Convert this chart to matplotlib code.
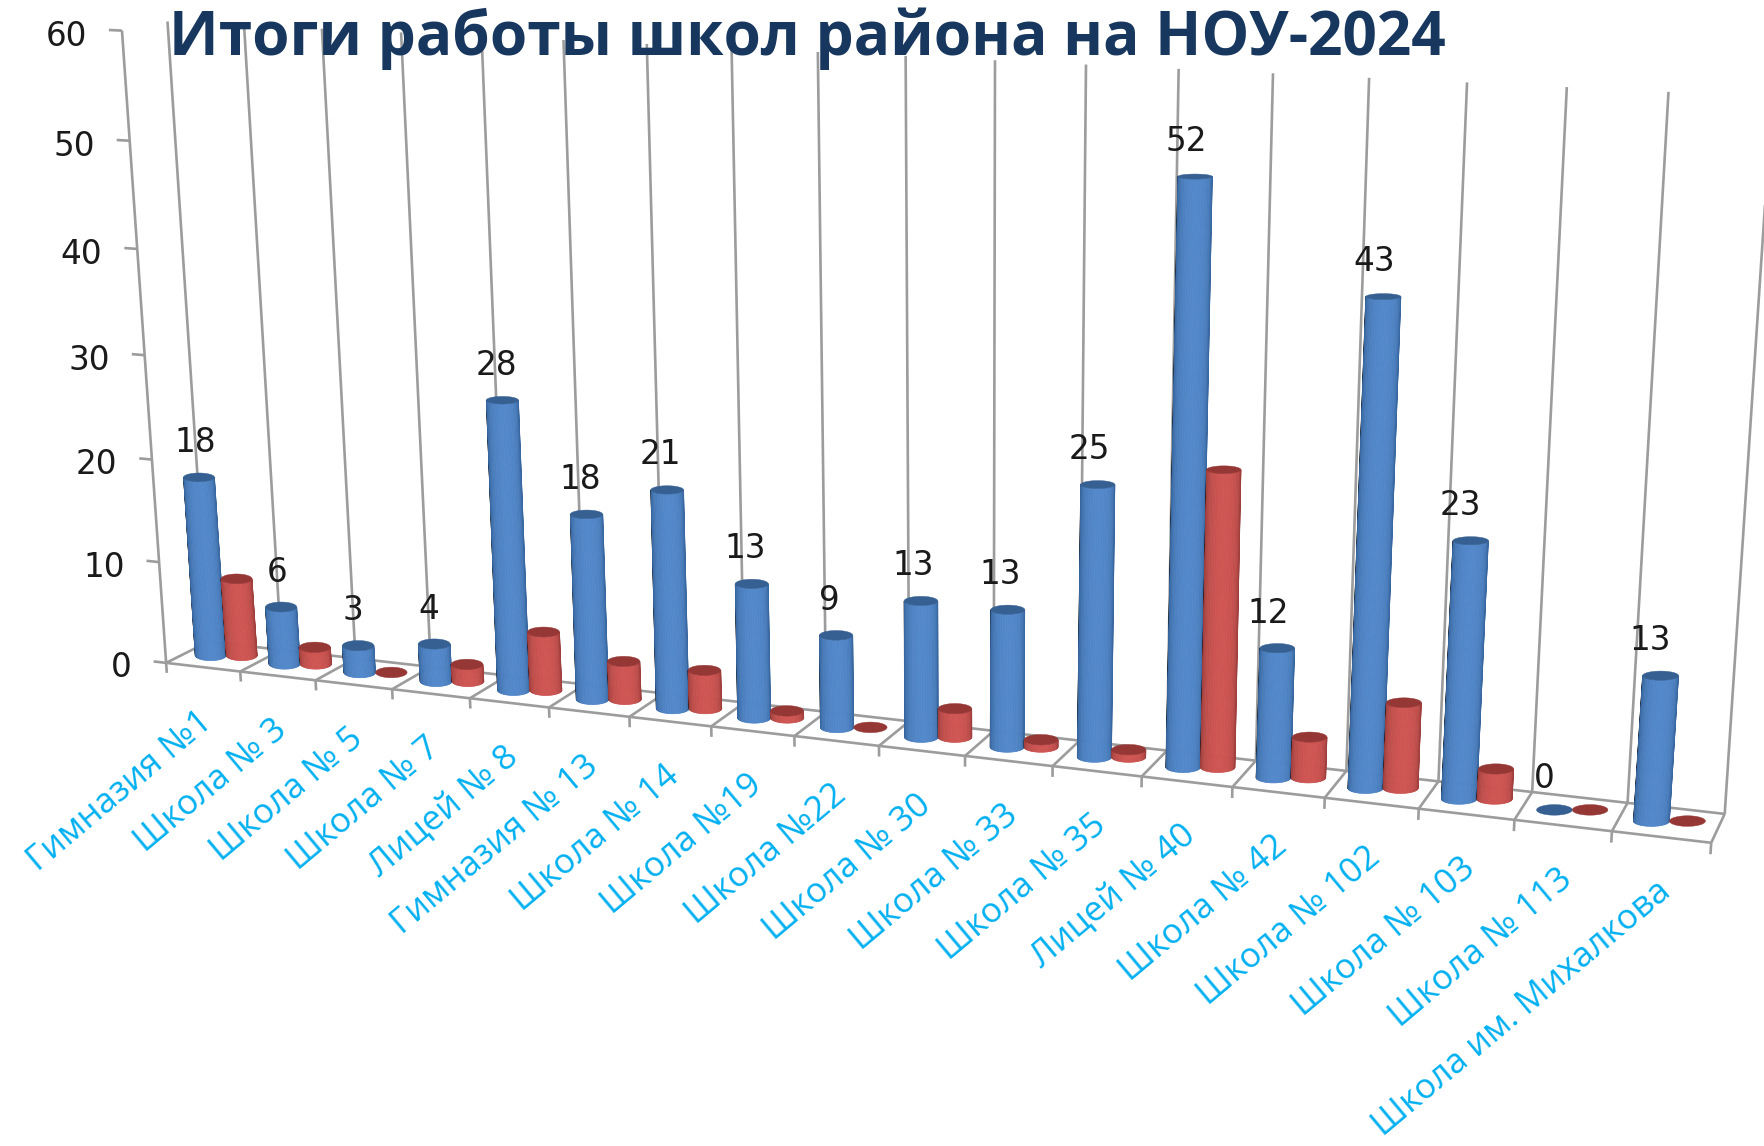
import numpy as np
import matplotlib
matplotlib.use("Agg")
import matplotlib.pyplot as plt
from matplotlib.collections import PolyCollection
from matplotlib.patches import Polygon
from matplotlib.transforms import Transform

# values
schools = [
    "Гимназия №1", "Школа № 3", "Школа № 5", "Школа № 7", "Лицей № 8", "Гимназия № 13",
    "Школа № 14", "Школа №19", "Школа №22", "Школа № 30", "Школа № 33", "Школа № 35",
    "Лицей № 40", "Школа № 42", "Школа № 102", "Школа № 103", "Школа № 113",
    "Школа им. Михалкова",
]
blue_vals = [18, 6, 3, 4, 28, 18, 21, 13, 9, 13, 13, 25, 52, 12, 43, 23, 0, 13]
red_vals = [8, 2, 0, 2, 6, 4, 4, 1, 0, 3, 1, 1, 27, 4, 8, 3, 0, 0]
y_ticks = [0, 10, 20, 30, 40, 50, 60]

BLUE = ("#2f5b8f", "#5288cb", "#376092")
RED = ("#8c3735", "#cf5552", "#953735")
GREY = "#9c9c9c"
TEXT = "#1a1a1a"

# where known corners of the chart box land in the image: (category, value, depth, px, py)
# depth 0 is the back wall, depth 1 the front edge of the floor
anchors = [
    (0, 0, 0, 208, 644), (1, 0, 0, 282, 648), (12, 0, 0, 1165, 750), (13, 0, 0, 1255, 760),
    (14, 0, 0, 1348, 772), (16, 0, 0, 1532, 793), (17, 0, 0, 1628, 803), (18, 0, 0, 1725, 813),
    (0, 60, 0, 167, 22), (1, 60, 0, 245, 25), (2, 60, 0, 322, 28), (9, 60, 0, 906, 56),
    (15, 60, 0, 1467, 82), (16, 60, 0, 1567, 87), (17, 60, 0, 1668, 92),
    (0, 0, 1, 166, 662), (1, 0, 1, 241, 673), (2, 0, 1, 317, 680), (3, 0, 1, 393, 687),
    (4, 0, 1, 470, 698), (12, 0, 1, 1142, 777), (13, 0, 1, 1233, 788), (14, 0, 1, 1324, 798),
    (15, 0, 1, 1418, 808), (16, 0, 1, 1515, 820), (17, 0, 1, 1612, 832), (18, 0, 1, 1711, 842),
    (0, 10, 1, 158, 562), (0, 20, 1, 150, 460), (0, 40, 1, 137, 249), (0, 50, 1, 129, 142),
    (0, 60, 1, 123, 30),
]


def fit_camera(rows):
    eqs = []
    for c, v, d, px, py in rows:
        X = np.array([c / 18, v / 60, d, 1.0])
        u, w = px / 1000, py / 1000
        eqs.append(np.r_[X, 0 * X, -u * X])
        eqs.append(np.r_[0 * X, X, -w * X])
    return np.linalg.svd(np.array(eqs))[2][-1].reshape(3, 4)


CAMERA = fit_camera(anchors)


class Box(Transform):
    """(category, value) at a fixed depth -> image pixels"""

    input_dims = 2
    output_dims = 2

    def __init__(self, plane):
        super().__init__()
        self.plane = plane

    def transform_non_affine(self, xy):
        xy = np.asarray(xy, dtype=float)
        X = np.c_[xy[:, 0] / 18, xy[:, 1] / 60, np.full(len(xy), self.plane), np.ones(len(xy))]
        p = X @ CAMERA.T
        return 1000 * p[:, :2] / p[:, 2:]


def shade(edge, mid, t):
    e = np.array(matplotlib.colors.to_rgb(edge))
    m = np.array(matplotlib.colors.to_rgb(mid))
    return tuple(e + (m - e) * t)


fig = plt.figure(figsize=(17.64, 11.46), dpi=100)
ax = fig.add_axes([0, 0, 1, 1])
ax.set_xlim(0, 1764)
ax.set_ylim(1146, 0)
ax.axis("off")

mid_plane = Box(0.45)
back = Box(0.0) + ax.transData
front = Box(1.0) + ax.transData
bars = mid_plane + ax.transData


def box_lines():
    n = len(schools)
    kw = dict(color=GREY, lw=1.9, zorder=1, solid_capstyle="butt")
    ax.plot([0, n], [0, 0], transform=back, **kw)
    ax.plot([0, n], [0, 0], transform=front, **kw)
    ax.plot([0, 0], [0, 60], transform=front, **kw)
    for c in range(n + 1):
        ax.plot([c, c], [0, 60], transform=back, **kw)
        ax.plot([c, c], [0, -1], transform=front, **kw)
        a = (Box(1.0).transform([[c, 0]])[0], Box(0.0).transform([[c, 0]])[0])
        ax.plot([a[0][0], a[1][0]], [a[0][1], a[1][1]], **kw)
    for t in y_ticks:
        ax.plot([-0.17, 0], [t, t], transform=front, **kw)
        ax.annotate(str(t), xy=(-0.17, t), xycoords=front, xytext=(-22, -3),
                    textcoords="offset pixels", ha="right", va="center_baseline",
                    fontsize=23.5, color=TEXT, family="DejaVu Sans", zorder=6)


def radius(i):
    return 15.5 + 2.5 * i / 17


def cap_height(v):
    return 5.3 * (1 - v / 100)


def cylinder(i, v, side, colors, zorder):
    # ends of the cylinders stay level in the picture, only their centres follow the box
    edge, mid, top = colors
    r = radius(i)
    bx, by = mid_plane.transform([[i + 0.5, 0]])[0]
    tx, ty = mid_plane.transform([[i + 0.5, v]])[0]
    bx += side * r
    tx += side * r
    if v > 0:
        ty += 3.5
    theta = np.linspace(np.pi, 0, 29)
    if v > 0:
        verts, fills = [], []
        for t0, t1 in zip(theta[:-1], theta[1:]):
            verts.append([
                (tx + r * np.cos(t0), ty + cap_height(v) * np.sin(t0)),
                (tx + r * np.cos(t1), ty + cap_height(v) * np.sin(t1)),
                (bx + r * np.cos(t1), by + cap_height(0) * np.sin(t1)),
                (bx + r * np.cos(t0), by + cap_height(0) * np.sin(t0)),
            ])
            # brightest a bit left of the middle, dark towards both sides
            tm = (t0 + t1) / 2
            fills.append(shade(edge, mid, np.clip(np.sin(tm + 0.1) ** 0.7, 0, 1)))
        ax.add_collection(PolyCollection(verts, facecolors=fills, edgecolors=fills,
                                         linewidths=0.5, zorder=zorder))
    ring = np.linspace(0, 2 * np.pi, 60)
    ax.add_patch(Polygon(np.c_[tx + r * np.cos(ring), ty + cap_height(v) * np.sin(ring)],
                         closed=True, fc=top, ec=top, lw=0.3, zorder=zorder + 0.1))


box_lines()
for i, (b, rd) in enumerate(zip(blue_vals, red_vals)):
    cylinder(i, b, -1, BLUE, 3 + i * 0.01)
    cylinder(i, rd, 1, RED, 4 + i * 0.01)
    ax.annotate(str(b), xy=(i + 0.5, b), xycoords=bars, xytext=(-radius(i) - 4 - 0.4 * i, 35),
                textcoords="offset pixels", ha="center", va="center_baseline",
                fontsize=23.5, color=TEXT, family="DejaVu Sans", zorder=6)
    ax.annotate(schools[i], xy=(i + 0.5, 0), xycoords=front, xytext=(5, -50),
                textcoords="offset pixels", ha="right", va="center", rotation=40,
                rotation_mode="anchor", fontsize=25, color="#00b0f0",
                family="Open Sans", zorder=6)

ax.text(169, 39, "Итоги работы школ района на НОУ-2024", fontsize=43.5, fontweight="bold",
        family="Open Sans", color="#17375e", ha="left", va="center", zorder=7)

fig.savefig("out.png", dpi=100, facecolor="white")
